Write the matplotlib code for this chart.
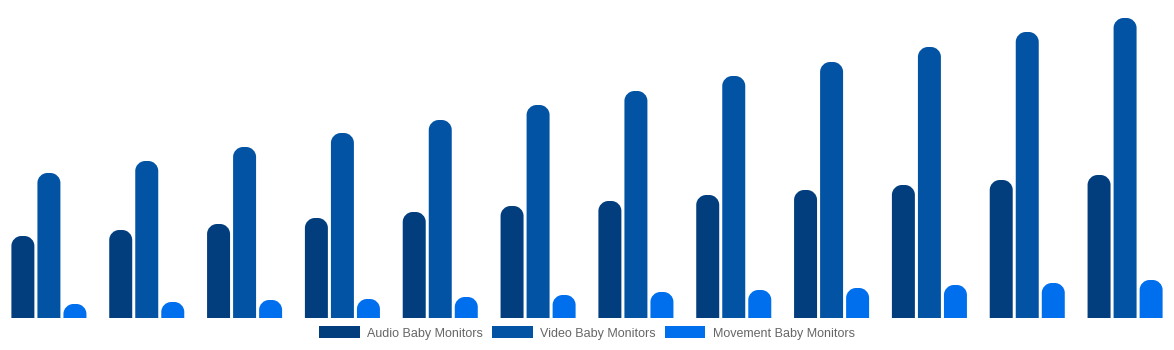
import matplotlib
matplotlib.use("Agg")
import matplotlib.pyplot as plt
from matplotlib.path import Path
from matplotlib.patches import PathPatch, Patch
import numpy as np

categories = [str(i) for i in range(1, 13)]
audio = [82, 88, 94, 100, 106, 112, 117, 123, 128, 133, 138, 143]
video = [145, 157, 171, 185, 198, 213, 227, 242, 256, 271, 286, 300]
movement = [14, 16, 18, 19, 21, 23, 26, 28, 30, 33, 35, 38]
series_names = ["Audio Baby Monitors", "Video Baby Monitors", "Movement Baby Monitors"]
colors = ["#023E7D", "#0353A4", "#006FEE"]

W, H, DPI = 1174, 350, 100
fig = plt.figure(figsize=(W / DPI, H / DPI), dpi=DPI)
fig.patch.set_facecolor("white")
ax = fig.add_axes([0, 32 / H, 1, 318 / H])
ax.set_xlim(-0.5, len(categories) - 0.5)
ax.set_ylim(0, 318)
ax.axis("off")

x = np.arange(len(categories))
width = 0.235
offsets = [-0.266, 0.0, 0.266]

px_x = len(categories) / W
px_y = 1.0
radius_px = 10

def rounded_top(x0, x1, h, rx, ry):
    ry = min(ry, h)
    k = 0.5523
    verts = [
        (x0, 0), (x0, h - ry),
        (x0, h - ry + k * ry), (x0 + rx - k * rx, h), (x0 + rx, h),
        (x1 - rx, h),
        (x1 - rx + k * rx, h), (x1, h - ry + k * ry), (x1, h - ry),
        (x1, 0), (x0, 0),
    ]
    codes = [Path.MOVETO, Path.LINETO,
             Path.CURVE4, Path.CURVE4, Path.CURVE4,
             Path.LINETO,
             Path.CURVE4, Path.CURVE4, Path.CURVE4,
             Path.LINETO, Path.CLOSEPOLY]
    return Path(verts, codes)

for vals, off, col, name in zip([audio, video, movement], offsets, colors, series_names):
    bars = ax.bar(x + off, vals, width=width, color=col, label=name)
    for b in bars:
        b.set_visible(False)
        x0 = b.get_x()
        x1 = x0 + b.get_width()
        h = b.get_height()
        patch = PathPatch(rounded_top(x0, x1, h, radius_px * px_x, radius_px * px_y),
                          facecolor=col, edgecolor="none")
        ax.add_patch(patch)

handles = [Patch(facecolor=c, edgecolor="none") for c in colors]
fig.legend(handles, series_names, loc="center", bbox_to_anchor=(0.5, 1 - 333 / H),
           ncol=3, frameon=False, handlelength=3.25, handleheight=1.1,
           handletextpad=0.6, columnspacing=0.7, labelcolor="#666666",
           prop={"family": ["Liberation Sans", "DejaVu Sans"], "size": 9})

fig.savefig("out.png", dpi=DPI, facecolor="white")
